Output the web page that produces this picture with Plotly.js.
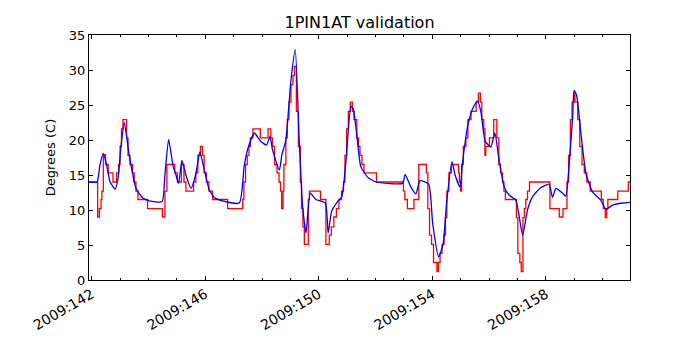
<!DOCTYPE html>
<html>
<head>
<meta charset="utf-8">
<script src="https://cdn.plot.ly/plotly-3.0.1.min.js"></script>
<style>
  body { margin: 0; background: #fff; }
  #plot { width: 700px; height: 350px; }
</style>
</head>
<body>
<div id="plot"></div>
<script>
// day-of-year 2009 (fractional) and temperature

// telemetry, quantized steps (red)
var telemDays = [141.91, 142.21, 142.27, 142.33, 142.36, 142.41, 142.49, 142.58, 142.75, 142.88,
  142.95, 143.00, 143.05, 143.10, 143.23, 143.28, 143.35, 143.44, 143.50, 143.56,
  143.63, 143.97, 144.49, 144.58, 144.65, 144.93, 145.02, 145.16, 145.25, 145.32,
  145.59, 145.67, 145.74, 145.83, 145.90, 145.96, 146.04, 146.13, 146.26, 146.79,
  147.32, 147.36, 147.42, 147.48, 147.54, 147.59, 147.68, 147.94, 148.21, 148.31,
  148.37, 148.44, 148.53, 148.60, 148.65, 148.69, 148.74, 148.77, 148.84, 148.89,
  148.95, 149.02, 149.09, 149.14, 149.21, 149.28, 149.35, 149.39, 149.44, 149.49,
  149.63, 149.67, 150.06, 150.25, 150.37, 150.44, 150.53, 150.62, 150.71, 150.80,
  150.87, 150.92, 150.98, 151.04, 151.11, 151.18, 151.24, 151.34, 151.40, 151.45,
  151.52, 151.59, 152.03, 152.98, 153.03, 153.12, 153.35, 153.52, 153.79, 153.84,
  153.90, 153.97, 154.04, 154.16, 154.21, 154.27, 154.34, 154.41, 154.46, 154.51,
  154.58, 154.67, 154.92, 154.95, 154.99, 155.03, 155.09, 155.18, 155.25, 155.36,
  155.54, 155.62, 155.69, 155.74, 155.81, 155.85, 155.88, 156.01, 156.16, 156.27,
  156.34, 156.40, 156.47, 156.52, 156.57, 156.96, 157.01, 157.08, 157.13, 157.19,
  157.24, 157.29, 157.35, 157.42, 158.14, 158.47, 158.60, 158.74, 158.80, 158.86,
  158.92, 158.98, 159.02, 159.12, 159.19, 159.27, 159.35, 159.44, 159.56, 159.95,
  160.02, 160.09, 160.14, 160.18, 160.53, 160.90, 160.96];
var telemTemps = [14.0, 9.0, 10.2, 11.5, 12.7, 17.9, 16.5, 15.3, 14.0, 15.3,
  16.5, 19.1, 21.6, 22.9, 20.3, 17.8, 16.5, 15.3, 14.0, 12.7,
  11.5, 10.2, 9.0, 12.7, 16.5, 15.3, 14.0, 16.5, 14.0, 12.7,
  14.0, 15.3, 17.8, 19.1, 17.8, 15.3, 14.0, 12.7, 11.5, 10.2,
  11.5, 14.0, 16.5, 17.8, 19.1, 20.3, 21.6, 20.3, 21.6, 20.3,
  19.1, 16.5, 15.3, 14.0, 12.7, 10.2, 12.7, 16.5, 20.3, 22.9,
  25.4, 27.9, 29.2, 30.5, 24.1, 19.1, 14.0, 10.2, 7.6, 5.1,
  11.5, 12.7, 11.5, 5.1, 6.4, 7.6, 9.0, 10.2, 11.5, 12.7,
  14.0, 17.8, 21.6, 24.1, 25.4, 24.1, 22.9, 20.3, 19.1, 17.8,
  16.5, 15.3, 14.0, 12.7, 11.5, 10.2, 11.5, 16.5, 15.3, 10.2,
  6.4, 5.1, 2.5, 1.2, 2.5, 3.8, 5.1, 6.4, 8.9, 12.7,
  15.3, 16.5, 15.3, 14.0, 12.7, 16.5, 19.1, 20.3, 22.9, 24.1,
  25.4, 26.7, 25.4, 22.9, 21.6, 17.8, 19.1, 20.3, 22.9, 20.3,
  16.5, 15.3, 14.0, 12.7, 11.5, 8.9, 3.8, 2.5, 1.2, 8.9,
  10.2, 11.5, 12.7, 14.0, 10.2, 9.0, 10.2, 14.0, 17.8, 22.9,
  25.4, 26.7, 25.4, 22.9, 19.1, 16.5, 15.3, 14.0, 12.7, 11.5,
  10.2, 8.9, 10.2, 11.5, 12.7, 14.0, 14.0];

// model prediction (blue)
var modelDays = [141.91, 142.19, 142.29, 142.41, 142.54, 142.65, 142.83, 142.93, 143.03, 143.15,
  143.33, 143.56, 143.80, 144.03, 144.48, 144.58, 144.71, 144.87, 144.97, 145.06,
  145.18, 145.32, 145.50, 145.67, 145.81, 145.97, 146.14, 146.32, 146.61, 147.20,
  147.37, 147.49, 147.73, 147.96, 148.16, 148.28, 148.37, 148.61, 148.70, 148.84,
  149.02, 149.17, 149.31, 149.43, 149.55, 149.70, 149.90, 150.23, 150.33, 150.45,
  150.66, 150.81, 150.96, 151.13, 151.21, 151.33, 151.48, 151.72, 152.01, 152.95,
  153.04, 153.24, 153.42, 153.56, 153.87, 154.01, 154.22, 154.38, 154.50, 154.69,
  154.80, 154.97, 155.06, 155.24, 155.42, 155.59, 155.71, 155.86, 156.06, 156.20,
  156.35, 156.53, 156.71, 156.94, 157.18, 157.35, 157.53, 157.79, 158.11, 158.23,
  158.35, 158.56, 158.70, 158.82, 158.94, 158.99, 159.08, 159.23, 159.41, 159.64,
  159.93, 160.11, 160.35, 160.70, 160.96];
var modelTemps = [14.0, 14.0, 16.4, 18.1, 16.2, 14.0, 13.0, 14.5, 19.0, 22.5,
  17.6, 13.1, 11.7, 11.3, 11.2, 15.0, 20.1, 16.2, 15.0, 13.8,
  17.1, 15.0, 13.1, 15.2, 18.3, 15.7, 12.9, 11.8, 11.3, 11.0,
  16.2, 18.6, 21.0, 19.8, 19.3, 20.5, 18.6, 15.7, 17.9, 20.0,
  28.6, 32.9, 20.0, 10.5, 6.7, 12.4, 11.5, 11.0, 6.7, 9.8,
  11.2, 11.9, 17.1, 24.8, 24.5, 21.0, 16.2, 14.7, 14.0, 13.8,
  15.1, 13.3, 12.3, 14.2, 13.7, 8.1, 3.3, 5.2, 11.0, 16.9,
  15.0, 13.3, 16.7, 21.9, 24.5, 25.6, 24.0, 19.8, 19.0, 21.0,
  17.1, 13.3, 12.1, 11.4, 6.4, 10.0, 11.9, 13.1, 13.7, 11.8,
  13.1, 12.5, 12.0, 16.7, 23.3, 27.1, 26.4, 21.0, 15.2, 12.6,
  11.4, 10.1, 10.7, 11.0, 11.1];

var tickDays = [142, 146, 150, 154, 158];
var tickLabels = ["2009:142", "2009:146", "2009:150", "2009:154", "2009:158"];

var telem = {
  x: telemDays,
  y: telemTemps,
  type: "scatter",
  mode: "lines",
  line: { color: "#ff0000", width: 1.3, shape: "hv" },
  hoverinfo: "skip"
};
var model = {
  x: modelDays,
  y: modelTemps,
  type: "scatter",
  mode: "lines",
  line: { color: "#0000ff", width: 1.3, shape: "spline", smoothing: 0.5 },
  hoverinfo: "skip"
};

var layout = {
  width: 700,
  height: 350,
  margin: { l: 89, r: 70, t: 35, b: 70 },
  paper_bgcolor: "#fff",
  plot_bgcolor: "#fff",
  showlegend: false,
  font: { family: "DejaVu Sans, sans-serif", size: 13, color: "#000" },
  title: {
    text: "1PIN1AT validation",
    font: { size: 16 },
    x: 0.5136, xanchor: "center",
    y: 0.935, yanchor: "middle"
  },
  xaxis: {
    range: [141.906, 160.96],
    tickvals: tickDays,
    ticktext: tickLabels,
    tickangle: -30,
    tickfont: { size: 14 },
    ticks: "inside",
    ticklen: 4,
    tickcolor: "#000",
    showgrid: false,
    zeroline: false,
    showline: true,
    linecolor: "#000",
    linewidth: 1,
    mirror: "allticks",
    minor: { dtick: 1, tick0: 142, ticks: "inside", ticklen: 2, tickcolor: "#000", showgrid: false }
  },
  yaxis: {
    range: [0, 35],
    dtick: 5,
    ticks: "inside",
    ticklen: 4,
    tickcolor: "#000",
    tickfont: { size: 13 },
    showgrid: false,
    zeroline: false,
    showline: true,
    linecolor: "#000",
    linewidth: 1,
    mirror: "allticks",
    title: { text: "Degrees (C)", font: { size: 13 }, standoff: 10 }
  }
};

Plotly.newPlot("plot", [telem, model], layout, { staticPlot: true });
</script>
</body>
</html>
